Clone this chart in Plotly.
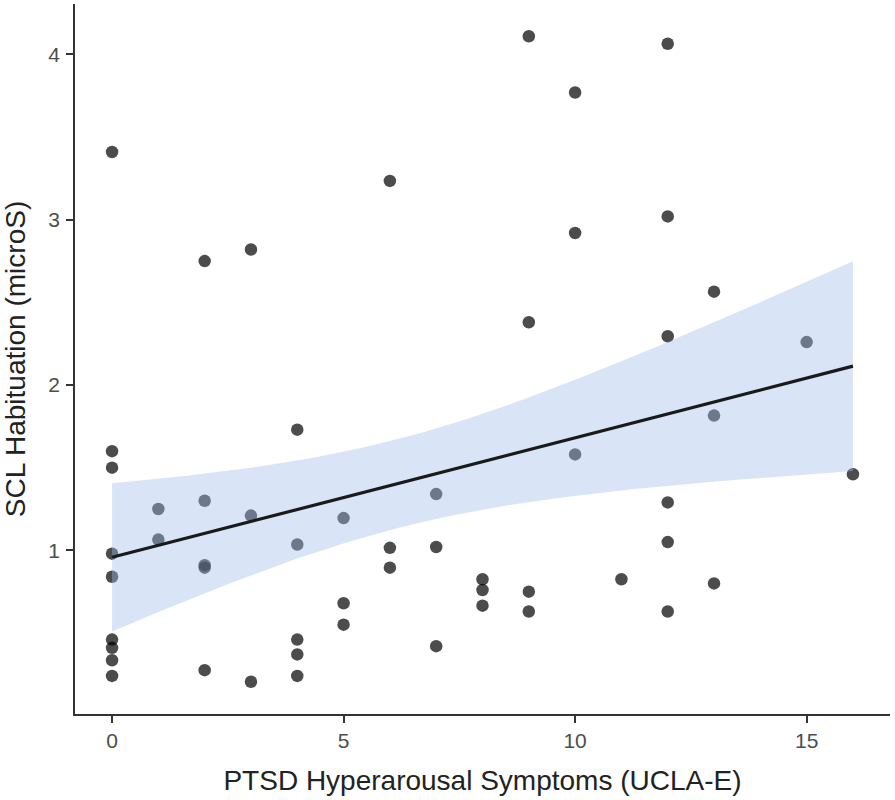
import numpy as np
import plotly.graph_objects as go

# PTSD Hyperarousal Symptoms (UCLA-E) score for each participant
x_vals = [0, 0, 0, 0, 0, 0, 0, 0, 0,
          1, 1,
          2, 2, 2, 2, 2,
          3, 3, 3,
          4, 4, 4, 4, 4,
          5, 5, 5,
          6, 6, 6,
          7, 7, 7,
          8, 8, 8,
          9, 9, 9, 9,
          10, 10, 10,
          11,
          12, 12, 12, 12, 12, 12,
          13, 13, 13,
          15,
          16]
# SCL Habituation (microS)
y_vals = [3.41, 1.60, 1.50, 0.98, 0.84, 0.46, 0.41, 0.335, 0.24,
          1.25, 1.065,
          2.75, 1.30, 0.91, 0.895, 0.275,
          2.82, 1.21, 0.205,
          1.73, 1.035, 0.46, 0.37, 0.24,
          1.195, 0.68, 0.55,
          3.235, 1.015, 0.895,
          1.34, 1.02, 0.42,
          0.825, 0.76, 0.665,
          4.11, 2.38, 0.75, 0.63,
          3.77, 2.92, 1.58,
          0.825,
          4.065, 3.02, 2.295, 1.29, 1.05, 0.63,
          2.565, 1.815, 0.80,
          2.26,
          1.46]

x_ticks = [0, 5, 10, 15]
y_ticks = [1, 2, 3, 4]

x_title = "PTSD Hyperarousal Symptoms (UCLA-E)"
y_title = "SCL Habituation (microS)"

# Linear fit with 95% confidence band (as geom_smooth(method="lm"))
x = np.array(x_vals, dtype=float)
y = np.array(y_vals, dtype=float)
n = len(x)
xbar, ybar = x.mean(), y.mean()
sxx = ((x - xbar) ** 2).sum()
slope = ((x - xbar) * (y - ybar)).sum() / sxx
intercept = ybar - slope * xbar
resid = y - (intercept + slope * x)
s = np.sqrt((resid ** 2).sum() / (n - 2))
t_crit = 2.0057  # t(0.975, df=53)
xs = np.linspace(x.min(), x.max(), 80)
fit = intercept + slope * xs
se = s * np.sqrt(1.0 / n + (xs - xbar) ** 2 / sxx)
upper = fit + t_crit * se
lower = fit - t_crit * se

fig = go.Figure()
fig.add_trace(go.Scatter(
    x=x, y=y, mode="markers",
    marker=dict(size=12.5, color="rgba(0,0,0,0.7)", line=dict(width=0)),
    showlegend=False, hoverinfo="x+y"))
fig.add_trace(go.Scatter(
    x=np.concatenate([xs, xs[::-1]]), y=np.concatenate([upper, lower[::-1]]),
    mode="lines", fill="toself", fillcolor="rgba(160,190,232,0.4)",
    line=dict(width=0), showlegend=False, hoverinfo="skip"))
fig.add_trace(go.Scatter(
    x=xs, y=fit, mode="lines", line=dict(color="#1a1a1a", width=3.2),
    showlegend=False, hoverinfo="skip"))

xr = x.max() - x.min()
yr = y.max() - y.min()

fig.update_layout(
    width=895, height=800,
    margin=dict(l=75, r=5, t=4, b=86),
    paper_bgcolor="white", plot_bgcolor="white",
    font=dict(family="Liberation Sans, Arial, sans-serif"),
    xaxis=dict(
        range=[x.min() - 0.05 * xr, x.max() + 0.05 * xr],
        tickvals=x_ticks, ticks="outside", ticklen=7, tickwidth=1.5,
        tickcolor="#333333", showline=True, linecolor="#333333", linewidth=1.5,
        showgrid=False, zeroline=False, automargin=False,
        tickfont=dict(size=21, color="#4d4d4d"),
        title=dict(text=x_title, font=dict(size=28, color="#222222"), standoff=19),
    ),
    yaxis=dict(
        range=[y.min() - 0.05 * yr, y.max() + 0.05 * yr],
        tickvals=y_ticks, ticks="outside", ticklen=7, tickwidth=1.5,
        tickcolor="#333333", showline=True, linecolor="#333333", linewidth=1.5,
        showgrid=False, zeroline=False, automargin=False,
        tickfont=dict(size=21, color="#4d4d4d"), ticklabelstandoff=2,
        title=dict(text=y_title, font=dict(size=28, color="#222222"), standoff=22),
    ),
)

# remove the default 8px body margin so the figure sits at the window origin
fig.write_html("out.html",
               config={"displayModeBar": False},
               post_script="document.body.style.margin='0px';")
